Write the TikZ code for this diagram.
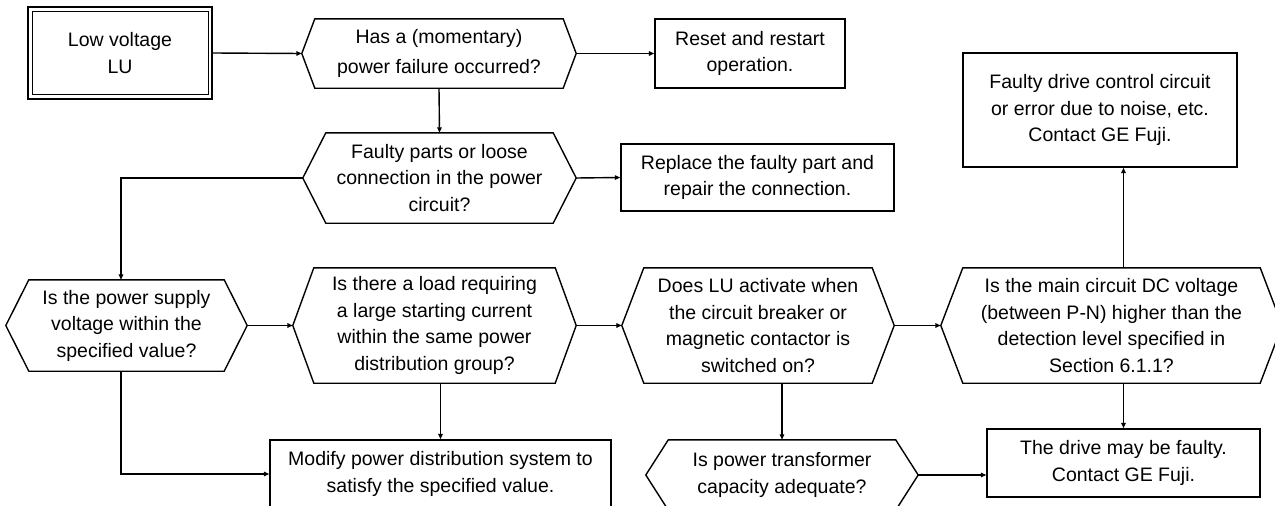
\documentclass[tikz,border=0pt]{standalone}
\usepackage{fontspec}
\setmainfont{Liberation Sans}
\usetikzlibrary{arrows.meta,calc}
\begin{document}
\begin{tikzpicture}[x=1pt,y=-1pt,
  every node/.style={font=\fontsize{19.5}{26.5}\selectfont, text=black, align=center, inner sep=0pt},
  line/.style={draw=black, line width=1.4pt},
  rect/.style={rectangle, line},
  hexnode/.style={rectangle},
  arr/.style={line, -{Triangle[length=5.5pt,width=4.5pt]}}]
\useasboundingbox (0,0) rectangle (1275,506);
\clip (0,0) rectangle (1275,506);
\fill[white] (0,0) rectangle (1275,506);
% nodes
\node[rect, minimum width=184pt, minimum height=92pt] (lv) at (120,53) {Low voltage\\LU};
\node[hexnode, minimum width=274pt, minimum height=69pt] (q1) at (439,53.5) {Has a (momentary)\\[3pt]power failure occurred?};
\node[rect, minimum width=190pt, minimum height=69pt] (reset) at (750,53.5) {Reset and restart\\operation.};
\node[hexnode, minimum width=273pt, minimum height=90pt] (q2) at (439.5,178) {Faulty parts or loose\\connection in the power\\circuit?};
\node[rect, minimum width=273pt, minimum height=67pt] (repl) at (757.5,177.5) {Replace the faulty part and\\repair the connection.};
\node[hexnode, minimum width=241pt, minimum height=91pt] (q3) at (126.5,325.5) {Is the power supply\\voltage within the\\specified value?};
\node[hexnode, minimum width=283pt, minimum height=115pt] (q4) at (434.5,325.5) {Is there a load requiring\\a large starting current\\within the same power\\distribution group?};
\node[hexnode, minimum width=272pt, minimum height=115pt] (q5) at (758,325.5) {Does LU activate when\\the circuit breaker or\\magnetic contactor is\\switched on?};
\node[hexnode, minimum width=341pt, minimum height=115pt] (q6) at (1111.5,325.5) {Is the main circuit DC voltage\\(between P-N) higher than the\\detection level specified in\\Section 6.1.1?};
\node[rect, minimum width=274pt, minimum height=114pt] (noise) at (1100,110) {Faulty drive control circuit\\or error due to noise, etc.\\Contact GE Fuji.};
\node[rect, minimum width=273pt, minimum height=68pt] (faulty) at (1123.5,463) {The drive may be faulty.\\Contact GE Fuji.};
\node[hexnode, minimum width=272pt, minimum height=70pt] (q7) at (782,475) {Is power transformer\\capacity adequate?};
\node[rect, minimum width=341pt, minimum height=68pt] (modify) at (440.5,474) {Modify power distribution system to\\satisfy the specified value.};
% inner frame of the start box
\draw[line] ($(lv.north west)+(5,5)$) rectangle ($(lv.south east)+(-4,-5)$);
% hexagon outlines
\foreach \n/\i in {q1/13,q2/23,q3/23,q4/21,q5/22,q6/22,q7/22.5}
  \draw[line, line join=miter] (\n.west) -- ($(\n.north west)+(\i,0)$) -- ($(\n.north east)-(\i,0)$) -- (\n.east)
     -- ($(\n.south east)-(\i,0)$) -- ($(\n.south west)+(\i,0)$) -- cycle;
% connectors
\draw[arr] (lv.east) -- (q1.west);
\draw[arr] (q1.east) -- (reset.west);
\draw[arr] (q1.south) -- (q2.north);
\draw[arr] (q2.east) -- (repl.west);
\draw[arr] (q2.west) -| ([xshift=-5.5pt]q3.north);
\draw[arr] (q3.east) -- (q4.west);
\draw[arr] (q4.east) -- (q5.west);
\draw[arr] (q5.east) -- (q6.west);
\draw[arr] (faulty.north |- q6.north) -- (faulty.north |- noise.south);
\draw[arr] (faulty.north |- q6.south) -- (faulty.north);
\draw[arr] (q7.north |- q5.south) -- (q7.north);
\draw[arr] (q7.east) -- (q7.east -| faulty.west);
\draw[arr] (modify.north |- q4.south) -- (modify.north);
\draw[arr] ([xshift=-5.5pt]q3.south) |- (modify.west);
\end{tikzpicture}
\end{document}
